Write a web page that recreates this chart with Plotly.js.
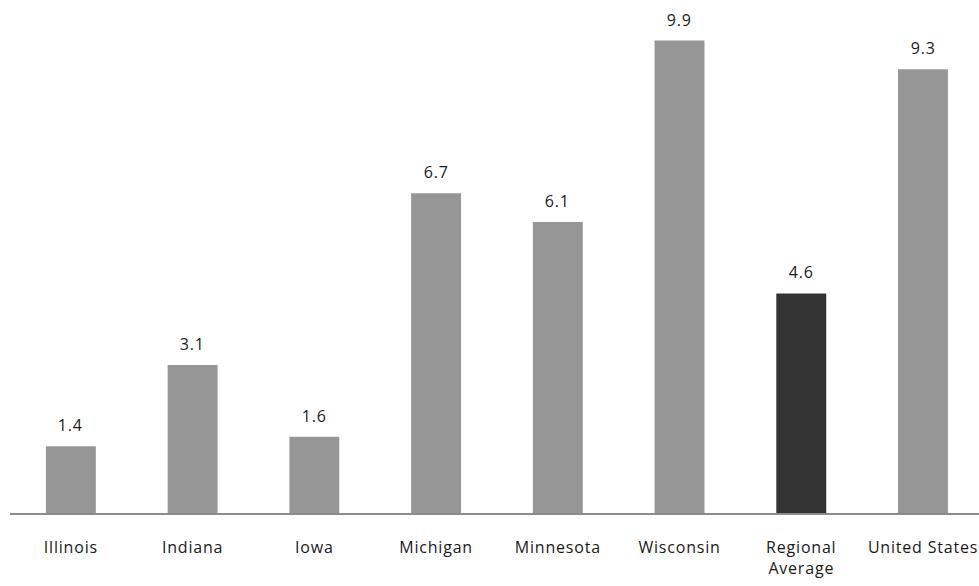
<!DOCTYPE html>
<html>
<head>
<meta charset="utf-8">
<script src="https://cdn.plot.ly/plotly-3.0.1.min.js"></script>
<style>
html,body{margin:0;padding:0;background:#fff;}
#chart{width:979px;height:586px;}
#chart .xtick text, #chart .annotation-text{letter-spacing:0.8px;}
</style>
</head>
<body>
<div id="chart"></div>
<script>
const categories = ["Illinois", "Indiana", "Iowa", "Michigan", "Minnesota", "Wisconsin", "Regional Average", "United States"];
const tickLabels = ["Illinois", "Indiana", "Iowa", "Michigan", "Minnesota", "Wisconsin", "Regional<br>Average", "United States"];
const values = [1.4, 3.1, 1.6, 6.7, 6.1, 9.9, 4.6, 9.3];
const highlight = "Regional Average";

const colors = categories.map(c => c === highlight ? "#333333" : "#969696");
const FONT = "'Open Sans', 'Noto Sans', sans-serif";

const trace = {
  type: "bar",
  x: categories,
  y: values,
  marker: {color: colors},
  hoverinfo: "none"
};

const annotations = categories.map((c, i) => ({
  x: c, y: values[i], xref: "x", yref: "y",
  text: values[i].toFixed(1),
  showarrow: false, yanchor: "bottom", yshift: 8,
  font: {family: FONT, size: 16, color: "#1a1a1a"}
}));

const layout = {
  width: 979, height: 586,
  margin: {l: 10, r: 0, t: 0, b: 73},
  paper_bgcolor: "#fff", plot_bgcolor: "#fff",
  bargap: 0.59,
  showlegend: false,
  xaxis: {
    type: "category",
    range: [-0.5, 7.46],
    tickvals: categories, ticktext: tickLabels,
    showline: true, linecolor: "#8c8c8c", linewidth: 1.5,
    ticks: "outside", ticklen: 19, tickcolor: "rgba(0,0,0,0)",
    tickfont: {family: FONT, size: 16, color: "#1a1a1a"},
    showgrid: false, zeroline: false, fixedrange: true
  },
  yaxis: {
    range: [0, 10.75],
    visible: false, showgrid: false, zeroline: false, fixedrange: true
  },
  annotations: annotations
};

Plotly.newPlot("chart", [trace], layout, {displayModeBar: false, staticPlot: true});
</script>
</body>
</html>
